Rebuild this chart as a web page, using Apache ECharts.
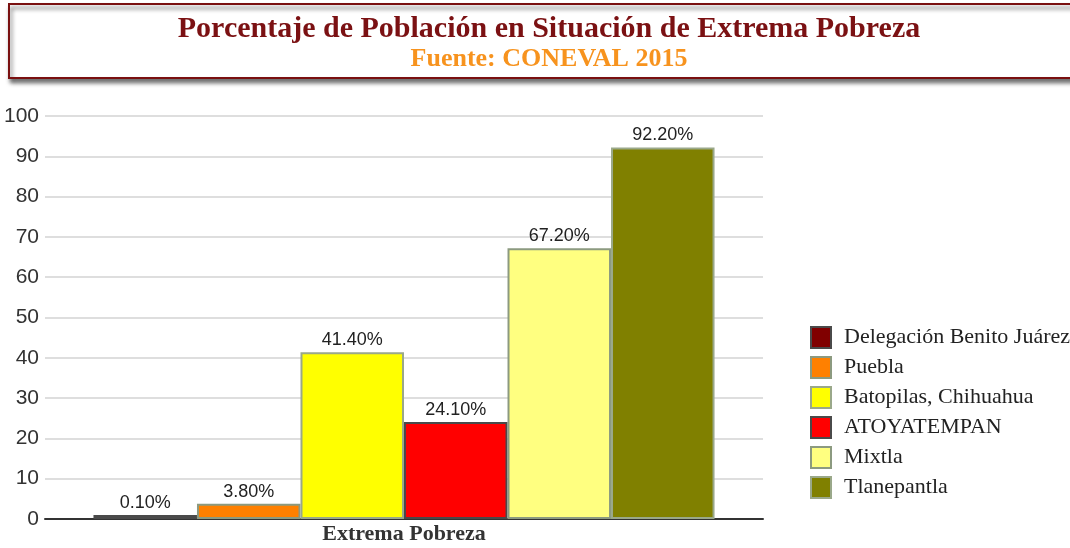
<!DOCTYPE html>
<html>
<head>
<meta charset="utf-8">
<script src="https://cdn.jsdelivr.net/npm/echarts@6/dist/echarts.min.js"></script>
<style>
html,body{margin:0;padding:0;background:#fff;}
#chart{width:1070px;height:548px;}
</style>
</head>
<body>
<div id="chart"></div>
<script>
const categories = ['Extrema Pobreza'];
const seriesNames = ['Delegación Benito Juárez', 'Puebla', 'Batopilas, Chihuahua', 'ATOYATEMPAN', 'Mixtla', 'Tlanepantla'];
const seriesValues = [0.1, 3.8, 41.4, 24.1, 67.2, 92.2];
const seriesColors = ['#800000', '#ff8000', '#ffff00', '#ff0000', '#ffff80', '#808000'];
const seriesBorders = ['#4a4a4a', '#8c9a80', '#9aa88a', '#4a4a4a', '#8c9a80', '#9aa88a'];
const yTicks = [0, 10, 20, 30, 40, 50, 60, 70, 80, 90, 100];

const chart = echarts.init(document.getElementById('chart'), null, {renderer: 'canvas'});

const series = seriesNames.map((name, i) => ({
  name: name,
  type: 'bar',
  data: [seriesValues[i]],
  barGap: '0%',
  barCategoryGap: '13.5%',
  barMinHeight: 4,
  itemStyle: {color: seriesColors[i], borderColor: seriesBorders[i], borderWidth: 2},
  label: {
    show: true,
    position: 'top',
    distance: 3,
    formatter: p => p.value.toFixed(2) + '%',
    fontFamily: 'Liberation Sans, Arial, sans-serif',
    fontSize: 18,
    color: '#222'
  }
}));

chart.setOption({
  animation: false,
  backgroundColor: '#fff',
  graphic: [
    {
      type: 'rect',
      left: 8, top: 3,
      shape: {width: 1075, height: 74},
      style: {fill: '#fff', stroke: '#7a1010', lineWidth: 2, shadowBlur: 4, shadowOffsetX: 2, shadowOffsetY: 4, shadowColor: 'rgba(0,0,0,0.55)'},
      z: 0
    }
  ],
  title: {
    text: 'Porcentaje de Población en Situación de Extrema Pobreza',
    subtext: 'Fuente: CONEVAL 2015',
    left: 544,
    textAlign: 'center',
    top: 9,
    itemGap: 2,
    textStyle: {fontFamily: 'Liberation Serif, Times New Roman, serif', fontWeight: 'bold', fontSize: 30, color: '#7b1113'},
    subtextStyle: {fontFamily: 'Liberation Serif, Times New Roman, serif', fontWeight: 'bold', fontSize: 26, color: '#f7931e'},
    z: 10
  },
  legend: {
    orient: 'vertical',
    left: 805,
    top: 321,
    itemWidth: 20,
    itemHeight: 21,
    itemGap: 7,
    icon: 'rect',
    data: seriesNames,
    textStyle: {fontFamily: 'Liberation Serif, Times New Roman, serif', fontSize: 22, lineHeight: 21, color: '#222', padding: [0, 0, 0, 8]}
  },
  grid: {left: 45, right: 307, top: 116, bottom: 29, containLabel: false},
  xAxis: {
    type: 'category',
    data: categories,
    axisLine: {lineStyle: {color: '#333', width: 2}},
    axisTick: {show: false},
    axisLabel: {fontFamily: 'Liberation Serif, Times New Roman, serif', fontWeight: 'bold', fontSize: 22, color: '#333', margin: 4}
  },
  yAxis: {
    type: 'value',
    min: 0, max: 100, interval: 10,
    axisLine: {show: false},
    axisTick: {show: false},
    axisLabel: {fontFamily: 'Liberation Sans, Arial, sans-serif', fontSize: 21, color: '#333', margin: 6,
      formatter: v => yTicks.includes(v) ? String(v) : ''},
    splitLine: {lineStyle: {color: '#dedede', width: 2}}
  },
  series: series
});
</script>
</body>
</html>
